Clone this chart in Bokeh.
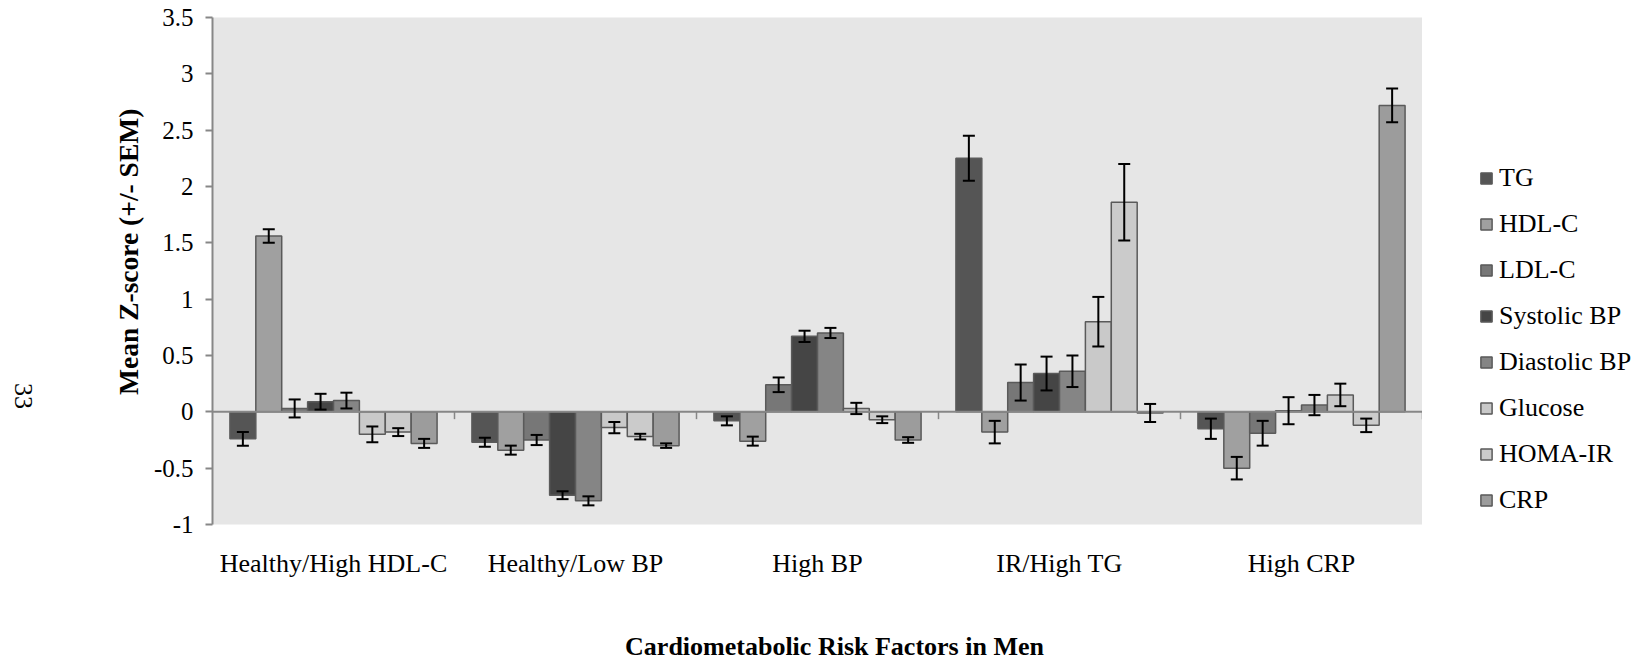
import math

from bokeh.embed import file_html
from bokeh.resources import INLINE
from bokeh.plotting import figure
from bokeh.layouts import row, column
from bokeh.core.properties import value
from bokeh.models import (ColumnDataSource, Range1d, FixedTicker, Whisker, TeeHead,
                          Span, Legend, LegendItem, CustomJSTickFormatter)

# Risk-factor clusters (x categories) and the measured variables (series)
groups = ["Healthy/High HDL-C", "Healthy/Low BP", "High BP", "IR/High TG", "High CRP"]
series = ["TG", "HDL-C", "LDL-C", "Systolic BP", "Diastolic BP", "Glucose", "HOMA-IR", "CRP"]

# Mean z-scores per series, one value per cluster
tg_mean = [-0.24, -0.27, -0.08, 2.25, -0.15]
hdl_mean = [1.56, -0.34, -0.26, -0.18, -0.50]
ldl_mean = [0.03, -0.25, 0.24, 0.26, -0.19]
sbp_mean = [0.09, -0.74, 0.67, 0.34, 0.01]
dbp_mean = [0.10, -0.79, 0.70, 0.36, 0.06]
glu_mean = [-0.20, -0.14, 0.03, 0.80, 0.15]
homa_mean = [-0.18, -0.22, -0.07, 1.86, -0.12]
crp_mean = [-0.28, -0.30, -0.25, -0.01, 2.72]

# Standard errors of the mean
tg_sem = [0.06, 0.04, 0.04, 0.20, 0.09]
hdl_sem = [0.06, 0.04, 0.04, 0.10, 0.10]
ldl_sem = [0.08, 0.045, 0.065, 0.16, 0.11]
sbp_sem = [0.07, 0.035, 0.05, 0.15, 0.12]
dbp_sem = [0.07, 0.04, 0.045, 0.14, 0.09]
glu_sem = [0.07, 0.05, 0.05, 0.22, 0.10]
homa_sem = [0.035, 0.025, 0.03, 0.34, 0.06]
crp_sem = [0.04, 0.02, 0.025, 0.08, 0.15]

y_ticks = [-1, -0.5, 0, 0.5, 1, 1.5, 2, 2.5, 3, 3.5]

means = [tg_mean, hdl_mean, ldl_mean, sbp_mean, dbp_mean, glu_mean, homa_mean, crp_mean]
sems = [tg_sem, hdl_sem, ldl_sem, sbp_sem, dbp_sem, glu_sem, homa_sem, crp_sem]
fills = ["#555555", "#a0a0a0", "#777777", "#454545", "#858585", "#c9c9c9", "#cbcbcb", "#9c9c9c"]

SERIF = "Liberation Serif"
AXIS_GREY = "#878787"
OUTLINE = "#5a5a5a"
W, H = 1640, 666
SIDE_W = 150          # strip left of the chart: page number and y title
LEGEND_W = 218        # strip right of the chart: legend
BOTTOM_H = 86         # strip under the chart: x title
MAIN_W, MAIN_H = W - SIDE_W - LEGEND_W, H - BOTTOM_H


def blank_strip(width, height):
    """Axis-less canvas in pixel units, used for free-standing texts and the legend."""
    f = figure(width=width, height=height, output_backend="svg", toolbar_location=None,
               x_range=Range1d(0, width), y_range=Range1d(0, height),
               x_axis_location=None, y_axis_location=None,
               min_border=0, min_border_left=0, min_border_right=0,
               min_border_top=0, min_border_bottom=0)
    f.outline_line_color = None
    f.background_fill_color = "white"
    f.border_fill_color = "white"
    f.xgrid.visible = False
    f.ygrid.visible = False
    return f


# ---- main chart -------------------------------------------------------------
p = figure(width=MAIN_W, height=MAIN_H, output_backend="svg", toolbar_location=None,
           x_range=Range1d(0, len(groups)), y_range=Range1d(-1, 3.5),
           min_border_left=209 - SIDE_W, min_border_right=0,
           min_border_top=17, min_border_bottom=MAIN_H - 530)
p.background_fill_color = "#e6e6e6"
p.border_fill_color = "white"
p.outline_line_color = None
p.xgrid.visible = False
p.ygrid.visible = False

# Legend strip shares the series sources; its copies of the bars stay hidden
leg = blank_strip(LEGEND_W, MAIN_H)

# Clustered bars: 8 bars centred in each category slot
n = len(series)
bar_w = 0.107
items = []
for k, (name, m, s, col) in enumerate(zip(series, means, sems, fills)):
    xs = [g + 0.5 + (k - (n - 1) / 2) * bar_w for g in range(len(groups))]
    src = ColumnDataSource(dict(x=xs, top=m,
                                lo=[a - b for a, b in zip(m, s)],
                                hi=[a + b for a, b in zip(m, s)]))
    p.vbar(x="x", top="top", bottom=0, width=bar_w, source=src,
           fill_color=col, line_color=OUTLINE, line_width=1.5)
    p.add_layout(Whisker(base="x", lower="lo", upper="hi", source=src, level="overlay",
                         line_color="black", line_width=2,
                         upper_head=TeeHead(size=12, line_color="black", line_width=2),
                         lower_head=TeeHead(size=12, line_color="black", line_width=2)))
    proxy = leg.vbar(x="x", top="top", bottom=0, width=bar_w, source=src,
                     fill_color=col, line_color=OUTLINE, line_width=1.5, visible=False)
    items.append(LegendItem(label=name, renderers=[proxy]))

# Category axis crossing at zero, with boundary tick marks hanging below it
p.add_layout(Span(location=0, dimension="width", line_color=AXIS_GREY, line_width=2))
bounds = list(range(1, len(groups) + 1))
p.segment(x0=bounds, x1=bounds, y0=[0] * len(bounds), y1=[-0.065] * len(bounds),
          line_color=AXIS_GREY, line_width=1.5)

# Bottom axis only carries the category names
xa = p.xaxis[0]
xa.ticker = FixedTicker(ticks=[g + 0.5 for g in range(len(groups))])
xa.major_label_overrides = {g + 0.5: name for g, name in enumerate(groups)}
xa.axis_line_color = None
xa.major_tick_line_color = None
xa.minor_tick_line_color = None
xa.major_label_standoff = 18
xa.major_label_text_font = SERIF
xa.major_label_text_font_size = "26px"
xa.major_label_text_color = "black"

ya = p.yaxis[0]
ya.ticker = FixedTicker(ticks=y_ticks)
ya.formatter = CustomJSTickFormatter(code="return tick.toString();")
ya.axis_line_color = AXIS_GREY
ya.axis_line_width = 2
ya.major_tick_line_color = AXIS_GREY
ya.major_tick_line_width = 2
ya.major_tick_out = 7
ya.major_tick_in = 0
ya.minor_tick_line_color = None
ya.major_label_standoff = 12
ya.major_label_text_font = SERIF
ya.major_label_text_font_size = "25px"
ya.major_label_text_color = "black"

# Legend: location is its bottom-left corner measured from the strip's bottom-left
legend = Legend(items=items, location=(57, 9), orientation="vertical",
                glyph_width=14, glyph_height=14, label_standoff=6, spacing=16,
                padding=0, margin=0, border_line_color=None, background_fill_alpha=0,
                label_text_font=SERIF, label_text_font_size="26px",
                label_text_color="black", label_text_baseline="middle")
leg.add_layout(legend)

# ---- left strip: page number and y-axis title --------------------------------
side = blank_strip(SIDE_W, MAIN_H)
side.text(x=[23], y=[MAIN_H - 433], text=["33"], angle=-math.pi / 2,
          text_font=value(SERIF), text_font_size="26px", text_color="black",
          text_align="center", text_baseline="middle")
side.text(x=[128], y=[MAIN_H - 268], text=["Mean Z-score (+/- SEM)"], angle=math.pi / 2,
          text_font=value(SERIF), text_font_style="bold", text_font_size="27.5px",
          text_color="black", text_align="center", text_baseline="middle")

# ---- bottom strip: x-axis title ----------------------------------------------
bottom = blank_strip(W, BOTTOM_H)
bottom.text(x=[834], y=[H - 646], text=["Cardiometabolic Risk Factors in Men"],
            text_font=value(SERIF), text_font_style="bold", text_font_size="26px",
            text_color="black", text_align="center", text_baseline="middle")

layout = column(row(side, p, leg, spacing=0), bottom, spacing=0)

open("out.html", "w").write(file_html(layout, INLINE))
